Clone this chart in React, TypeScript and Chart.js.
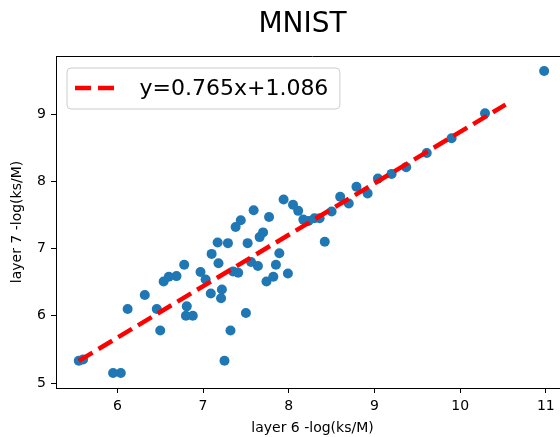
import React, { useEffect, useRef } from 'react';
import { Chart, registerables } from 'chart.js';

Chart.register(...registerables);

const TITLE = 'MNIST';
const X_LABEL = 'layer 6 -log(ks/M)';
const Y_LABEL = 'layer 7 -log(ks/M)';
const FIT_LABEL = 'y=0.765x+1.086';

const X_TICKS = [6, 7, 8, 9, 10, 11];
const Y_TICKS = [5, 6, 7, 8, 9];

const layer6 = [5.55, 5.6, 5.95, 6.04, 6.12, 6.32, 6.46, 6.5, 6.54, 6.6, 6.69, 6.78, 6.81, 6.8, 6.88, 6.97, 7.03, 7.09, 7.1, 7.17, 7.18, 7.22, 7.21, 7.25, 7.29, 7.32, 7.35, 7.41, 7.38, 7.44, 7.5, 7.52, 7.56, 7.64, 7.59, 7.66, 7.7, 7.74, 7.82, 7.77, 7.85, 7.89, 7.94, 7.99, 8.05, 8.11, 8.17, 8.23, 8.3, 8.36, 8.42, 8.5, 8.6, 8.7, 8.79, 8.92, 9.04, 9.2, 9.37, 9.61, 9.9, 10.29, 10.98];
const layer7 = [5.33, 5.35, 5.15, 5.15, 6.1, 6.31, 6.1, 5.78, 6.51, 6.58, 6.59, 6.76, 6.14, 6.0, 6.0, 6.65, 6.54, 6.33, 6.92, 7.09, 6.78, 6.39, 6.26, 5.33, 7.08, 5.78, 6.66, 6.64, 7.32, 7.42, 6.04, 7.08, 6.8, 6.74, 7.57, 7.17, 7.24, 6.51, 6.58, 7.47, 6.76, 6.93, 7.73, 6.63, 7.65, 7.56, 7.43, 7.41, 7.45, 7.45, 7.1, 7.55, 7.77, 7.67, 7.92, 7.82, 8.04, 8.11, 8.21, 8.42, 8.64, 9.01, 9.64];

const fitX = [5.55, 10.53];
const fitY = [5.33, 9.14];

const FONT = 'DejaVu Sans';
const FIT_COLOR = '#ff0000';
const DOT_COLOR = '#1f77b4';
const DASH = [16, 7];

const framePlugin = {
  id: 'frame',
  afterDraw(chart: any) {
    const { ctx, chartArea: ca } = chart;
    ctx.save();
    ctx.strokeStyle = '#000';
    ctx.lineWidth = 1;
    ctx.beginPath();
    ctx.moveTo(ca.left, Math.round(ca.top) + 0.5);
    ctx.lineTo(ca.right, Math.round(ca.top) + 0.5);
    ctx.moveTo(Math.round(ca.right) + 0.5, ca.top);
    ctx.lineTo(Math.round(ca.right) + 0.5, ca.bottom);
    ctx.stroke();
    ctx.restore();
  },
};

const legendPlugin = {
  id: 'boxLegend',
  afterDraw(chart: any) {
    const { ctx, chartArea: ca } = chart;
    const fs = 22;
    ctx.save();
    ctx.font = `${fs}px "${FONT}"`;
    const tw = ctx.measureText(FIT_LABEL).width;
    const left = ca.left + 10.5;
    const top = ca.top + 11.5;
    const h = 41;
    const textX = left + 73;
    const w = textX + tw + 11 - left;
    ctx.beginPath();
    ctx.roundRect(left + 0.5, top + 0.5, w, h, 4);
    ctx.fillStyle = 'rgba(255,255,255,0.8)';
    ctx.fill();
    ctx.strokeStyle = '#cccccc';
    ctx.lineWidth = 1;
    ctx.stroke();
    const cy = top + h / 2;
    ctx.beginPath();
    ctx.setLineDash(DASH);
    ctx.lineWidth = 4.5;
    ctx.strokeStyle = FIT_COLOR;
    ctx.lineCap = 'butt';
    ctx.moveTo(left + 8.5, cy);
    ctx.lineTo(left + 50.5, cy);
    ctx.stroke();
    ctx.setLineDash([]);
    ctx.fillStyle = '#000';
    ctx.textBaseline = 'middle';
    ctx.textAlign = 'left';
    ctx.fillText(FIT_LABEL, textX, cy + 1);
    ctx.restore();
  },
};

export default function App() {
  const ref = useRef<HTMLCanvasElement | null>(null);

  useEffect(() => {
    if (!ref.current) return;
    Chart.defaults.font.family = FONT;
    const tickFont = { family: FONT, size: 14 };
    const chart = new Chart(ref.current, {
      type: 'scatter',
      data: {
        datasets: [
          {
            label: FIT_LABEL,
            data: fitX.map((x, i) => ({ x, y: fitY[i] })),
            showLine: true,
            borderColor: FIT_COLOR,
            borderWidth: 4.5,
            borderDash: DASH,
            borderCapStyle: 'butt',
            pointRadius: 0,
            pointHoverRadius: 0,
            fill: false,
          } as any,
          {
            label: 'points',
            data: layer6.map((x, i) => ({ x, y: layer7[i] })),
            backgroundColor: DOT_COLOR,
            borderWidth: 0,
            pointRadius: 5,
            pointHoverRadius: 5,
          },
        ],
      },
      options: {
        animation: false,
        responsive: false,
        events: [],
        layout: { padding: { left: 0, top: 0, right: -36, bottom: 0 }, autoPadding: false },
        plugins: {
          legend: { display: false },
          tooltip: { enabled: false },
          title: {
            display: true,
            text: TITLE,
            color: '#000',
            font: { family: FONT, size: 28, weight: 'normal' },
            padding: { top: 8, bottom: 14.4 },
            fullSize: true,
          },
        },
        scales: {
          x: {
            type: 'linear',
            position: 'bottom',
            min: 5.284,
            max: 11.27,
            afterBuildTicks: (s: any) => {
              s.ticks = X_TICKS.map((v) => ({ value: v }));
            },
            afterFit: (s: any) => {
              s.height = 49;
            },
            ticks: { font: tickFont, color: '#000', padding: 5, maxRotation: 0, autoSkip: false, includeBounds: false },
            grid: { drawOnChartArea: false, drawTicks: true, tickLength: 5, color: '#000', tickWidth: 1 },
            border: { display: true, color: '#000', width: 1 },
            title: { display: true, text: X_LABEL, color: '#000', font: tickFont, padding: { top: 0, bottom: 0 } },
          },
          y: {
            type: 'linear',
            position: 'left',
            min: 4.926,
            max: 9.863,
            afterBuildTicks: (s: any) => {
              s.ticks = Y_TICKS.map((v) => ({ value: v }));
            },
            afterFit: (s: any) => {
              s.width = 56;
            },
            ticks: { font: tickFont, color: '#000', padding: 5, autoSkip: false, includeBounds: false },
            grid: { drawOnChartArea: false, drawTicks: true, tickLength: 5, color: '#000', tickWidth: 1 },
            border: { display: true, color: '#000', width: 1 },
            title: { display: true, text: Y_LABEL, color: '#000', font: tickFont, padding: { top: 8.6, bottom: 0 } },
          },
        },
      } as any,
      plugins: [framePlugin, legendPlugin],
    });
    return () => chart.destroy();
  }, []);

  return (
    <div style={{ position: 'fixed', left: 0, top: 0, width: 560, height: 437, overflow: 'hidden', background: '#fff' }}>
      <canvas ref={ref} width={569} height={437} style={{ display: 'block', width: 569, height: 437 }} />
    </div>
  );
}
